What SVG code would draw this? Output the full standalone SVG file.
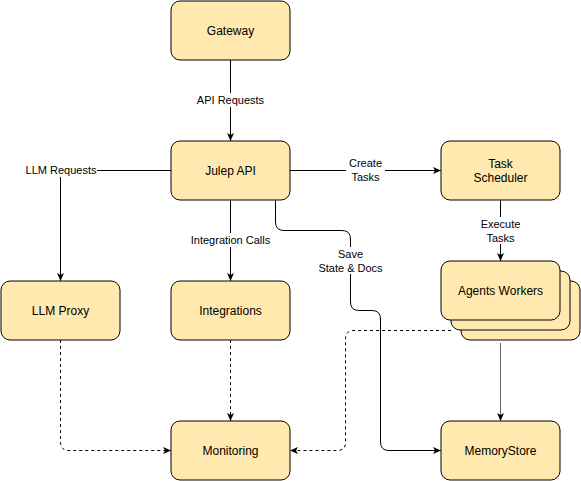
<svg xmlns="http://www.w3.org/2000/svg" width="581" height="481" viewBox="0 0 581 481">
<style>
.node rect{fill:#FFE9AE;stroke:#000;stroke-width:1}
.nt{font-family:"Liberation Sans",Arial,sans-serif;font-size:12px;fill:#000;text-anchor:middle;dominant-baseline:central}
.el{font-family:"Liberation Sans",Arial,sans-serif;font-size:11px;fill:#000;text-anchor:middle;dominant-baseline:central}
.e{fill:none;stroke:#000;stroke-width:1}
.d{stroke-dasharray:3 3}
.lb{fill:#fff;stroke:none}
</style>
<defs>
<marker id="a" markerUnits="userSpaceOnUse" markerWidth="10" markerHeight="10" viewBox="0 0 10 10" refX="9" refY="5" orient="auto">
<path d="M1,1.5 L9,5 L1,8.5 L3,5 Z" fill="#000"/>
</marker>
</defs>
<g id="connectors">
<path class="e" d="M230.5,60 V141" marker-end="url(#a)"/>
<path class="e" d="M171,170.5 H60.5 V281" marker-end="url(#a)"/>
<path class="e" d="M230.5,200 V281" marker-end="url(#a)"/>
<path class="e" d="M290,170.5 H441" marker-end="url(#a)"/>
<path class="e" d="M500.5,200 V261" marker-end="url(#a)"/>
<path class="e" d="M275.5,200 V222 Q275.5,230.5 284,230.5 H342 Q350.5,230.5 350.5,239 V302 Q350.5,310.5 359,310.5 H372 Q380.5,310.5 380.5,319 V442 Q380.5,450.5 389,450.5 H441" marker-end="url(#a)"/>
<path class="e" d="M500.5,343 V421" style="stroke:#666" marker-end="url(#a)"/>
<path class="e d" d="M60.5,340 V442 Q60.5,450.5 69,450.5 H171" marker-end="url(#a)"/>
<path class="e d" d="M230.5,340 V421" marker-end="url(#a)"/>
<path class="e d" d="M451,330.5 H354 Q345.5,330.5 345.5,339 V442 Q345.5,450.5 337,450.5 H290" marker-end="url(#a)"/>
<rect class="lb" x="195" y="93" width="71" height="14"/>
<text class="el" x="230.5" y="100">API Requests</text>
<rect class="lb" x="25" y="163" width="72" height="14"/>
<text class="el" x="61" y="170">LLM Requests</text>
<rect class="lb" x="189" y="233" width="83" height="14"/>
<text class="el" x="230.5" y="240">Integration Calls</text>
<rect class="lb" x="346" y="157" width="39" height="27"/>
<text class="el" x="365.5" y="163">Create</text>
<text class="el" x="365.5" y="177">Tasks</text>
<rect class="lb" x="479" y="217" width="43" height="27"/>
<text class="el" x="500.5" y="224">Execute</text>
<text class="el" x="500.5" y="238">Tasks</text>
<rect class="lb" x="320" y="247" width="60" height="27"/>
<text class="el" x="350.5" y="254">Save</text>
<text class="el" x="350.5" y="268">State &amp; Docs</text>
</g>
<g id="gateway" class="node"><rect x="171" y="1" width="119" height="59" rx="9"/><text class="nt" x="230.5" y="30.5">Gateway</text></g>
<g id="julep-api" class="node"><rect x="171" y="141" width="119" height="59" rx="9"/><text class="nt" x="230.5" y="170.5">Julep API</text></g>
<g id="task-scheduler" class="node"><rect x="441" y="141" width="119" height="59" rx="9"/><text class="nt" x="500.5" y="163.5">Task</text><text class="nt" x="500.5" y="177.5">Scheduler</text></g>
<g id="llm-proxy" class="node"><rect x="1" y="281" width="119" height="59" rx="9"/><text class="nt" x="60.5" y="310.5">LLM Proxy</text></g>
<g id="integrations" class="node"><rect x="171" y="281" width="119" height="59" rx="9"/><text class="nt" x="230.5" y="310.5">Integrations</text></g>
<g id="agents-workers" class="node"><rect x="461" y="281" width="119" height="59" rx="9"/><rect x="451" y="271" width="119" height="59" rx="9"/><rect x="441" y="261" width="119" height="59" rx="9"/><text class="nt" x="500.5" y="290.5">Agents Workers</text></g>
<g id="monitoring" class="node"><rect x="171" y="421" width="119" height="59" rx="9"/><text class="nt" x="230.5" y="450.5">Monitoring</text></g>
<g id="memorystore" class="node"><rect x="441" y="421" width="119" height="59" rx="9"/><text class="nt" x="500.5" y="450.5">MemoryStore</text></g>
</svg>
